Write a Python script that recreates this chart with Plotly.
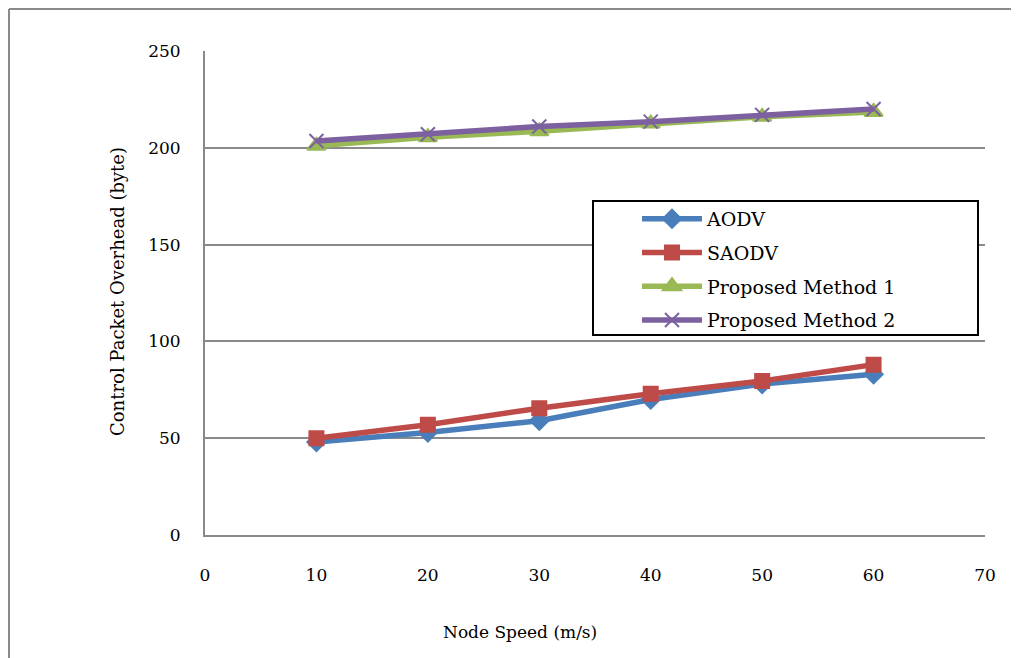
import plotly.graph_objects as go

speeds = [10, 20, 30, 40, 50, 60]
aodv = [48, 53, 59, 70, 78, 83]
saodv = [50, 57, 65.5, 73, 79.5, 88]
pm1 = [201, 205.5, 208.5, 212.5, 216, 218.5]
pm2 = [203.5, 207, 211, 213.5, 217, 220]

x_ticks = [0, 10, 20, 30, 40, 50, 60, 70]
y_ticks = [0, 50, 100, 150, 200, 250]

FONT = "DejaVu Serif"
GRAY = "#8a8a8a"

# figure is offset 8px by page body margin; sizes compensate
W, H = 1011, 650
L, T = 197, 43
PW, PH = 780, 484


def px(X):
    return (X - 205) / PW


def py(Y):
    return (535 - Y) / PH


fig = go.Figure()
series = [
    ("AODV", aodv, "#4a7ebb", "diamond", 14),
    ("SAODV", saodv, "#be4b48", "square", 14),
    ("Proposed Method 1", pm1, "#98b954", "triangle-up", 16),
    ("Proposed Method 2", pm2, "#7d60a0", "x-thin", 14),
]
for name, vals, color, sym, size in series:
    fig.add_trace(go.Scatter(
        x=speeds, y=vals, name=name, mode="lines+markers",
        legendgroup=name,
        line=dict(color=color, width=5.5),
        marker=dict(symbol=sym, size=size, color=color,
                    line=dict(color=color, width=2)),
    ))

fig.update_layout(
    width=W, height=H,
    margin=dict(l=L, r=W - L - PW, t=T, b=H - T - PH),
    paper_bgcolor="white", plot_bgcolor="white",
    font=dict(family=FONT, size=17, color="black"),
    showlegend=True,
    legend=dict(
        x=px(637), y=py(200), xanchor="left", yanchor="top",
        borderwidth=0, bgcolor="rgba(0,0,0,0)",
        font=dict(family=FONT, size=19),
        tracegroupgap=6, itemwidth=60,
    ),
    xaxis=dict(
        range=[0, 70], tickvals=x_ticks, showgrid=False,
        showline=True, linecolor=GRAY, linewidth=2,
        zeroline=False, ticks="", ticklabelstandoff=24,
    ),
    yaxis=dict(
        range=[0, 250], tickvals=y_ticks, showgrid=True,
        gridcolor=GRAY, gridwidth=2,
        showline=True, linecolor=GRAY, linewidth=2,
        zeroline=False, ticks="", ticklabelstandoff=19,
    ),
    annotations=[
        dict(text="Node Speed (m/s)", xref="paper", yref="paper",
             x=px(520), y=py(632), xanchor="center", yanchor="middle",
             showarrow=False, font=dict(family=FONT, size=17)),
        dict(text="Control Packet Overhead (byte)", xref="paper", yref="paper",
             x=px(117), y=py(292), xanchor="center", yanchor="middle",
             textangle=-90, showarrow=False, font=dict(family=FONT, size=18)),
    ],
    shapes=[
        dict(type="rect", xref="paper", yref="paper",
             x0=px(593), x1=px(978), y0=py(335), y1=py(201),
             fillcolor="white", line=dict(color="black", width=2), layer="above"),
        dict(type="line", xref="paper", yref="paper",
             x0=(1 - L) / PW, x1=1.2, y0=(T + PH - 1) / PH, y1=(T + PH - 1) / PH,
             line=dict(color=GRAY, width=2)),
        dict(type="line", xref="paper", yref="paper",
             x0=(1 - L) / PW, x1=(1 - L) / PW, y0=(T + PH - 1) / PH, y1=-0.4,
             line=dict(color=GRAY, width=2)),
    ],
)

fig.write_html("out.html")
